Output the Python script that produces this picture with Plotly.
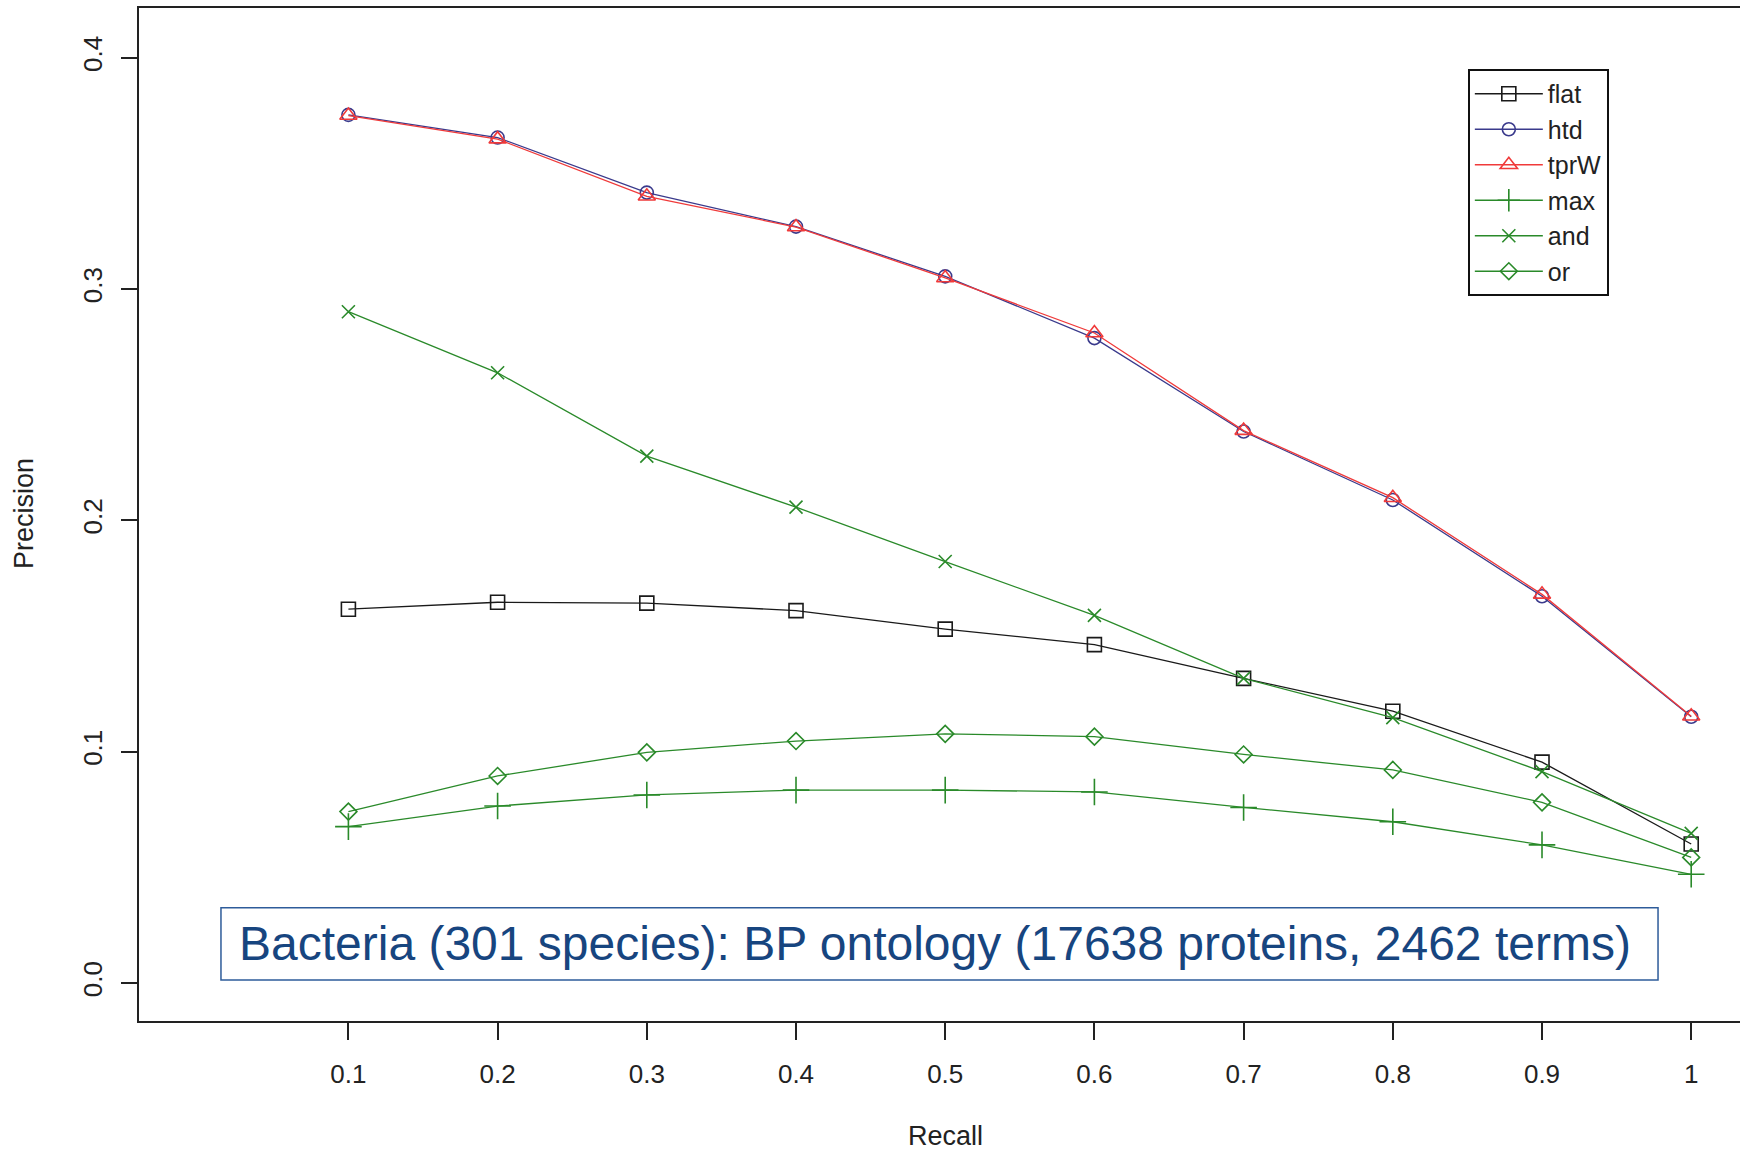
import plotly.graph_objects as go

recall = [0.1, 0.2, 0.3, 0.4, 0.5, 0.6, 0.7, 0.8, 0.9, 1.0]
tick_labels = ["0.1", "0.2", "0.3", "0.4", "0.5", "0.6", "0.7", "0.8", "0.9", "1"]
y_ticks = [0.0, 0.1, 0.2, 0.3, 0.4]
y_tick_labels = ["0.0", "0.1", "0.2", "0.3", "0.4"]

flat = [0.1616, 0.1646, 0.1642, 0.1610, 0.1530, 0.1463, 0.1317, 0.1175, 0.0955, 0.0601]
htd = [0.3753, 0.3655, 0.3417, 0.3270, 0.3055, 0.2788, 0.2384, 0.2088, 0.1672, 0.1151]
tprW = [0.3750, 0.3648, 0.3401, 0.3268, 0.3048, 0.2810, 0.2388, 0.2098, 0.1680, 0.1153]
max_ = [0.0676, 0.0765, 0.0813, 0.0834, 0.0834, 0.0826, 0.0759, 0.0697, 0.0597, 0.0470]
and_ = [0.2902, 0.2638, 0.2278, 0.2057, 0.1822, 0.1589, 0.1317, 0.1147, 0.0914, 0.0647]
or_ = [0.0741, 0.0895, 0.0997, 0.1046, 0.1077, 0.1065, 0.0988, 0.0921, 0.0781, 0.0543]

series_names = ["flat", "htd", "tprW", "max", "and", "or"]
series_values = [flat, htd, tprW, max_, and_, or_]

colors = ["#1a1a1a", "#3a3a8c", "#f03a3a", "#2a8a2a", "#2a8a2a", "#2a8a2a"]
symbols = ["square-open", "circle-open", "triangle-up-open", "cross-thin-open", "x-thin-open", "diamond-open"]
sizes = [14, 13, 15, 19, 13, 13]

title_text = "Bacteria (301 species): BP ontology (17638 proteins, 2462 terms)"

FONT = "Liberation Sans, Arial, Helvetica, sans-serif"

fig = go.Figure()
for name, vals, c, s, sz in zip(series_names, series_values, colors, symbols, sizes):
    fig.add_trace(go.Scatter(
        x=recall, y=vals, name=name, mode="lines+markers",
        line=dict(color=c, width=1.3),
        marker=dict(symbol=s, size=sz, color=c, line=dict(color=c, width=1.6)),
    ))

fig.update_layout(
    width=1740, height=1151,
    margin=dict(l=139, r=0, t=8, b=130),
    paper_bgcolor="white", plot_bgcolor="white",
    font=dict(family=FONT, color="#222222", size=26),
    showlegend=True,
    legend=dict(
        x=0.83, y=0.9398, xanchor="left", yanchor="top",
        bgcolor="white", bordercolor="#111111", borderwidth=2,
        font=dict(size=25, color="#222222"),
        itemwidth=68, tracegroupgap=0,
    ),
    xaxis=dict(
        range=[-0.04035, 1.0327], tickmode="array", tickvals=recall, ticktext=tick_labels,
        showgrid=False, zeroline=False, showline=True, linecolor="#222222", linewidth=2,
        mirror=True, ticks="outside", ticklen=17, tickwidth=2, tickcolor="#222222",
        tickfont=dict(size=26), ticklabelstandoff=12,
    ),
    yaxis=dict(
        range=[-0.01643, 0.4215], tickmode="array", tickvals=y_ticks, ticktext=y_tick_labels,
        showgrid=False, zeroline=False, showline=True, linecolor="#222222", linewidth=2,
        mirror=False, ticks="outside", ticklen=16, tickwidth=2, tickcolor="#222222",
        tickangle=-90, tickfont=dict(size=26), ticklabelstandoff=9,
    ),
)

fig.add_annotation(text="Recall", x=0.5, xref="x", y=-0.1135, yref="paper",
                   showarrow=False, xanchor="center", yanchor="middle", font=dict(size=27))
fig.add_annotation(text="Precision", x=-0.0718, xref="paper", y=0.5005, yref="paper",
                   showarrow=False, textangle=-90, xanchor="center", yanchor="middle", font=dict(size=27))

fig.add_shape(type="rect", xref="paper", yref="paper", x0=0.0512, x1=0.9488, y0=0.0405, y1=0.1118,
              line=dict(color="#2e5c9a", width=1.5), fillcolor="white", layer="above")
fig.add_annotation(text=title_text, x=0.4969, xref="paper", y=0.0762, yref="paper",
                   showarrow=False, xanchor="center", yanchor="middle",
                   font=dict(size=48, color="#17457f", family=FONT))

fig.write_html("out.html")
